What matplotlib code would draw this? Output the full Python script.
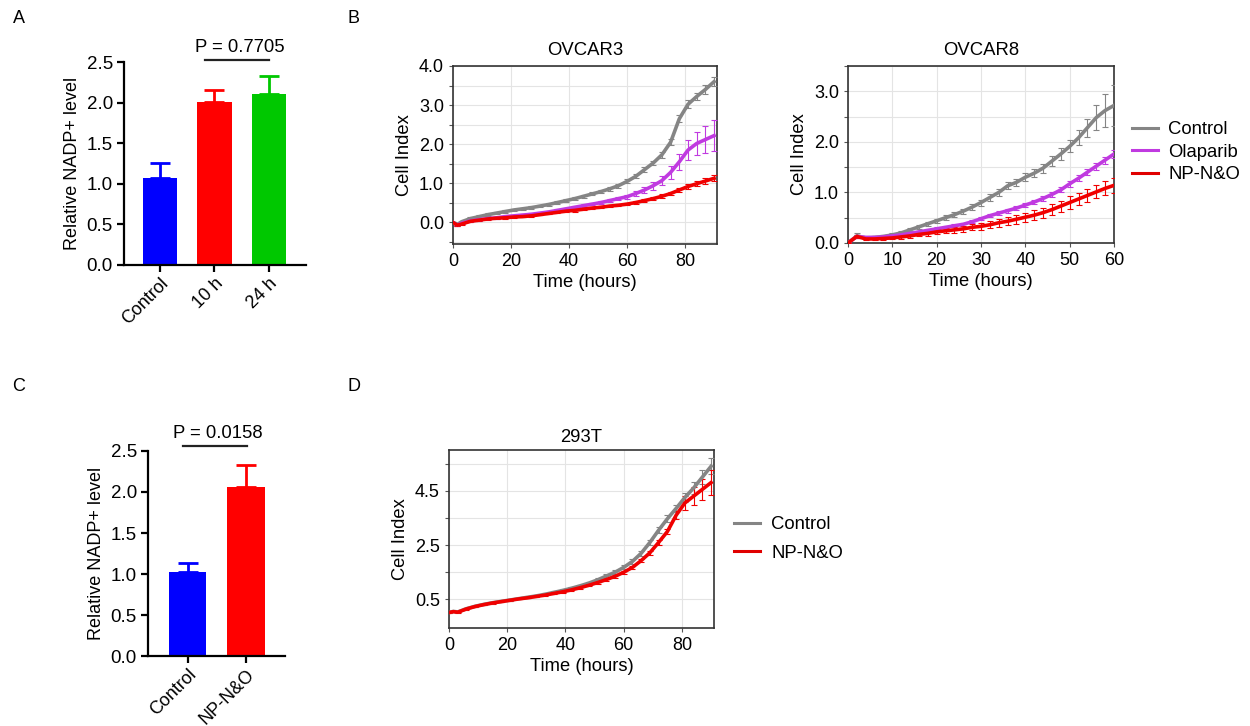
import numpy as np
import matplotlib
matplotlib.use("Agg")
import matplotlib.pyplot as plt
from matplotlib.lines import Line2D
from matplotlib.ticker import MultipleLocator, FixedLocator

plt.rcParams['font.family'] = ['Liberation Sans', 'DejaVu Sans']
plt.rcParams['font.size'] = 13

# panel A / C bars
a_labels = ['Control', '10 h', '24 h']
a_values = [1.07, 2.01, 2.11]
a_errors = [0.19, 0.14, 0.22]
a_colors = ['#0000ff', '#ff0000', '#00c800']
a_pval = 'P = 0.7705'

c_labels = ['Control', 'NP-N&O']
c_values = [1.03, 2.06]
c_errors = [0.11, 0.27]
c_colors = ['#0000ff', '#ff0000']
c_pval = 'P = 0.0158'

# panel B OVCAR3
t3 = [0, 1.5, 3, 6, 9, 12, 15, 18, 21, 24, 27, 30, 33, 36, 39, 42, 45, 48, 51, 54,
      57, 60, 63, 66, 69, 72, 75, 78, 81, 84, 87, 90]
o3_ctrl = [0.00, -0.05, 0.02, 0.10, 0.15, 0.20, 0.24, 0.28, 0.32, 0.35, 0.38, 0.42, 0.46,
           0.51, 0.56, 0.61, 0.67, 0.73, 0.79, 0.86, 0.94, 1.05, 1.18, 1.35, 1.52, 1.73,
           2.05, 2.65, 3.02, 3.22, 3.40, 3.60]
o3_ctrl_err = [0.02, 0.03, 0.03, 0.03, 0.03, 0.03, 0.03, 0.03, 0.03, 0.03, 0.03, 0.03, 0.03,
               0.04, 0.04, 0.04, 0.04, 0.04, 0.04, 0.05, 0.05, 0.05, 0.05, 0.06, 0.06, 0.07,
               0.08, 0.09, 0.10, 0.10, 0.11, 0.12]
o3_ola = [0.00, -0.07, -0.02, 0.04, 0.07, 0.10, 0.12, 0.15, 0.17, 0.19, 0.21, 0.24, 0.27,
          0.31, 0.35, 0.39, 0.43, 0.47, 0.51, 0.56, 0.61, 0.66, 0.74, 0.83, 0.94, 1.07,
          1.28, 1.55, 1.85, 2.02, 2.12, 2.22]
o3_ola_err = [0.02, 0.02, 0.02, 0.02, 0.02, 0.02, 0.02, 0.02, 0.02, 0.02, 0.02, 0.03, 0.03,
              0.03, 0.03, 0.03, 0.03, 0.03, 0.04, 0.04, 0.04, 0.05, 0.06, 0.08, 0.10, 0.12,
              0.16, 0.20, 0.25, 0.30, 0.35, 0.40]
o3_np = [0.00, -0.07, -0.04, 0.03, 0.06, 0.09, 0.11, 0.12, 0.14, 0.15, 0.17, 0.20, 0.23,
         0.26, 0.29, 0.31, 0.34, 0.37, 0.39, 0.42, 0.44, 0.47, 0.51, 0.56, 0.61, 0.67,
         0.74, 0.83, 0.92, 0.99, 1.06, 1.13]
o3_np_err = [0.02, 0.02, 0.02, 0.02, 0.02, 0.02, 0.02, 0.02, 0.02, 0.02, 0.02, 0.02, 0.02,
             0.02, 0.02, 0.03, 0.03, 0.03, 0.03, 0.03, 0.03, 0.03, 0.04, 0.04, 0.04, 0.05,
             0.05, 0.06, 0.06, 0.07, 0.07, 0.08]

# panel B OVCAR8
t8 = [0, 2, 4, 6, 8, 10, 12, 14, 16, 18, 20, 22, 24, 26, 28, 30, 32, 34, 36, 38, 40,
      42, 44, 46, 48, 50, 52, 54, 56, 58, 60]
o8_ctrl = [0.00, 0.14, 0.10, 0.11, 0.13, 0.16, 0.20, 0.26, 0.32, 0.38, 0.44, 0.50, 0.56,
           0.63, 0.71, 0.80, 0.90, 1.00, 1.13, 1.20, 1.30, 1.38, 1.48, 1.62, 1.76, 1.91,
           2.08, 2.28, 2.48, 2.62, 2.72]
o8_ctrl_err = [0.00, 0.05, 0.03, 0.03, 0.03, 0.03, 0.03, 0.03, 0.04, 0.04, 0.04, 0.05, 0.05,
               0.05, 0.06, 0.06, 0.06, 0.07, 0.07, 0.07, 0.08, 0.08, 0.09, 0.10, 0.11, 0.12,
               0.15, 0.18, 0.25, 0.32, 0.40]
o8_ola = [0.00, 0.13, 0.11, 0.11, 0.12, 0.14, 0.16, 0.19, 0.22, 0.25, 0.28, 0.31, 0.34,
          0.37, 0.42, 0.48, 0.54, 0.59, 0.64, 0.69, 0.75, 0.81, 0.88, 0.96, 1.05, 1.17,
          1.28, 1.40, 1.52, 1.64, 1.76]
o8_ola_err = [0.00, 0.03, 0.02, 0.02, 0.02, 0.02, 0.02, 0.02, 0.02, 0.02, 0.03, 0.03, 0.03,
              0.03, 0.03, 0.03, 0.03, 0.04, 0.04, 0.04, 0.04, 0.04, 0.05, 0.05, 0.05, 0.06,
              0.06, 0.06, 0.07, 0.07, 0.08]
o8_np = [0.00, 0.13, 0.08, 0.08, 0.09, 0.10, 0.12, 0.14, 0.17, 0.19, 0.22, 0.24, 0.26,
         0.28, 0.31, 0.33, 0.36, 0.40, 0.43, 0.47, 0.51, 0.55, 0.60, 0.66, 0.73, 0.80,
         0.87, 0.94, 1.01, 1.08, 1.14]
o8_np_err = [0.00, 0.03, 0.03, 0.03, 0.03, 0.03, 0.04, 0.04, 0.04, 0.05, 0.05, 0.05, 0.06,
             0.06, 0.06, 0.07, 0.07, 0.08, 0.08, 0.09, 0.09, 0.10, 0.10, 0.11, 0.11, 0.12,
             0.12, 0.13, 0.13, 0.14, 0.15]

# panel D 293T
tt = [0, 1.5, 3, 6, 9, 12, 15, 18, 21, 24, 27, 30, 33, 36, 39, 42, 45, 48, 51, 54,
      57, 60, 63, 66, 69, 72, 75, 78, 81, 84, 87, 90]
t293_ctrl = [0.02, 0.06, 0.04, 0.16, 0.25, 0.32, 0.38, 0.43, 0.48, 0.53, 0.58, 0.63, 0.69,
             0.76, 0.83, 0.91, 1.00, 1.10, 1.22, 1.36, 1.50, 1.68, 1.90, 2.20, 2.60, 3.05,
             3.47, 3.85, 4.25, 4.60, 5.00, 5.40]
t293_ctrl_err = [0.02, 0.02, 0.02, 0.02, 0.02, 0.02, 0.02, 0.02, 0.03, 0.03, 0.03, 0.03, 0.04,
                 0.04, 0.04, 0.05, 0.05, 0.05, 0.06, 0.06, 0.07, 0.07, 0.08, 0.09, 0.10, 0.11,
                 0.12, 0.14, 0.18, 0.22, 0.26, 0.30]
t293_np = [0.02, 0.05, 0.03, 0.15, 0.24, 0.31, 0.37, 0.42, 0.47, 0.52, 0.56, 0.61, 0.66,
           0.72, 0.78, 0.85, 0.93, 1.02, 1.12, 1.23, 1.35, 1.50, 1.68, 1.93, 2.22, 2.60,
           3.00, 3.60, 4.05, 4.30, 4.55, 4.80]
t293_np_err = [0.02, 0.02, 0.02, 0.02, 0.02, 0.02, 0.02, 0.02, 0.02, 0.02, 0.02, 0.03, 0.03,
               0.03, 0.03, 0.03, 0.04, 0.04, 0.04, 0.05, 0.05, 0.05, 0.06, 0.06, 0.07, 0.08,
               0.10, 0.15, 0.25, 0.32, 0.38, 0.45]

GRAY = '#858585'
PURPLE = '#c03ae0'
RED = '#f00000'

fig = plt.figure(figsize=(12.5, 7.26), dpi=100)


def bar_panel(ax, labels, values, errors, colors, ptext, pline, xlim):
    x = np.arange(len(values))
    ax.bar(x, values, width=0.64, color=colors, zorder=2)
    for i in range(len(values)):
        ax.errorbar(x[i], values[i], yerr=[[0], [errors[i]]], color=colors[i],
                    ecolor=colors[i], capsize=7, elinewidth=2, capthick=2, zorder=1)
    ax.set_xlim(*xlim)
    ax.set_ylim(0, 2.5)
    ax.set_yticks([0, 0.5, 1.0, 1.5, 2.0, 2.5])
    ax.set_yticklabels(['0.0', '0.5', '1.0', '1.5', '2.0', '2.5'], fontsize=13.5)
    ax.set_xticks(x)
    ax.set_xticklabels(labels, rotation=45, ha='right', rotation_mode='anchor', fontsize=13)
    for s in ['top', 'right']:
        ax.spines[s].set_visible(False)
    for s in ['left', 'bottom']:
        ax.spines[s].set_linewidth(1.6)
    ax.tick_params(width=1.6, length=5, pad=3)
    ax.tick_params(axis='x', pad=2)
    ax.set_ylabel('Relative NADP+ level', fontsize=13)
    ax.plot(pline[:2], [pline[2], pline[2]], color='#222222', lw=1.6, clip_on=False)
    ax.text((pline[0] + pline[1]) / 2 + 0.05, pline[2] + 0.05, ptext, ha='center',
            va='bottom', fontsize=13.3)


def curve_style(ax):
    for s in ax.spines.values():
        s.set_color('#333333')
        s.set_linewidth(1.2)
    ax.grid(True, which='both', color='#e4e4e4', lw=0.8)
    ax.set_axisbelow(True)
    ax.tick_params(which='both', length=3, width=0.8, color='#555555', labelsize=13)
    ax.set_xlabel('Time (hours)', fontsize=13.2, labelpad=3)
    ax.set_ylabel('Cell Index', fontsize=13.2)


def draw(ax, t, y, e, c):
    ax.errorbar(t, y, yerr=e, color=c, ecolor=c, lw=2.6, elinewidth=0.8, capsize=2.5,
                capthick=0.8, zorder=3)


# A
axA = fig.add_axes([0.0992, 0.6350, 0.1456, 0.2796])
bar_panel(axA, a_labels, a_values, a_errors, a_colors, a_pval, [0.83, 2.0, 2.52],
          (-0.66, 2.68))

# C
axC = fig.add_axes([0.1184, 0.0964, 0.1096, 0.2824])
bar_panel(axC, c_labels, c_values, c_errors, c_colors, c_pval, [-0.08, 1.02, 2.56],
          (-0.68, 1.67))

# B OVCAR3
ax3 = fig.add_axes([0.3624, 0.6639, 0.2112, 0.2452])
draw(ax3, t3, o3_ctrl, o3_ctrl_err, GRAY)
draw(ax3, t3, o3_ola, o3_ola_err, PURPLE)
draw(ax3, t3, o3_np, o3_np_err, RED)
ax3.set_xlim(0, 91)
ax3.set_ylim(-0.55, 4.0)
ax3.xaxis.set_major_locator(MultipleLocator(20))
ax3.yaxis.set_major_locator(FixedLocator([0, 1, 2, 3, 4]))
ax3.yaxis.set_minor_locator(FixedLocator([-0.5, 0.5, 1.5, 2.5, 3.5]))
ax3.set_yticklabels(['0.0', '1.0', '2.0', '3.0', '4.0'])
curve_style(ax3)
ax3.set_title('OVCAR3', fontsize=13.3, pad=8)

# B OVCAR8
ax8 = fig.add_axes([0.6784, 0.6653, 0.2128, 0.2438])
draw(ax8, t8, o8_ctrl, o8_ctrl_err, GRAY)
draw(ax8, t8, o8_ola, o8_ola_err, PURPLE)
draw(ax8, t8, o8_np, o8_np_err, RED)
ax8.set_xlim(0, 60)
ax8.set_ylim(0, 3.5)
ax8.xaxis.set_major_locator(MultipleLocator(10))
ax8.yaxis.set_major_locator(FixedLocator([0, 1, 2, 3]))
ax8.yaxis.set_minor_locator(FixedLocator([0.5, 1.5, 2.5, 3.5]))
ax8.set_yticklabels(['0.0', '1.0', '2.0', '3.0'])
curve_style(ax8)
ax8.set_title('OVCAR8', fontsize=13.3, pad=8)
handles = [Line2D([], [], color=GRAY, lw=2.2), Line2D([], [], color=PURPLE, lw=2.2),
           Line2D([], [], color='#e00000', lw=2.2)]
ax8.legend(handles, ['Control', 'Olaparib', 'NP-N&O'], loc='center left',
           bbox_to_anchor=(1.034, 0.514), frameon=False, fontsize=13.3, borderpad=0,
           handlelength=1.4, handletextpad=0.55, labelspacing=0.3)

# D 293T
axD = fig.add_axes([0.3592, 0.1350, 0.2120, 0.2452])
draw(axD, tt, t293_ctrl, t293_ctrl_err, GRAY)
draw(axD, tt, t293_np, t293_np_err, RED)
axD.set_xlim(0, 91)
axD.set_ylim(-0.55, 6.0)
axD.xaxis.set_major_locator(MultipleLocator(20))
axD.yaxis.set_major_locator(FixedLocator([0.5, 2.5, 4.5]))
axD.yaxis.set_minor_locator(FixedLocator([1.5, 3.5, 5.5]))
curve_style(axD)
axD.set_title('293T', fontsize=13.3, pad=6)
handles = [Line2D([], [], color=GRAY, lw=2.2), Line2D([], [], color='#e00000', lw=2.2)]
axD.legend(handles, ['Control', 'NP-N&O'], loc='center left',
           bbox_to_anchor=(1.041, 0.50), frameon=False, fontsize=13.3, borderpad=0,
           handlelength=1.4, handletextpad=0.6, labelspacing=0.6)

for lab, x, y in [('A', 0.010, 0.975), ('B', 0.278, 0.975), ('C', 0.010, 0.468),
                  ('D', 0.278, 0.468)]:
    fig.text(x, y, lab, fontsize=13, va='center', ha='left')

fig.savefig('out.png', dpi=100)
